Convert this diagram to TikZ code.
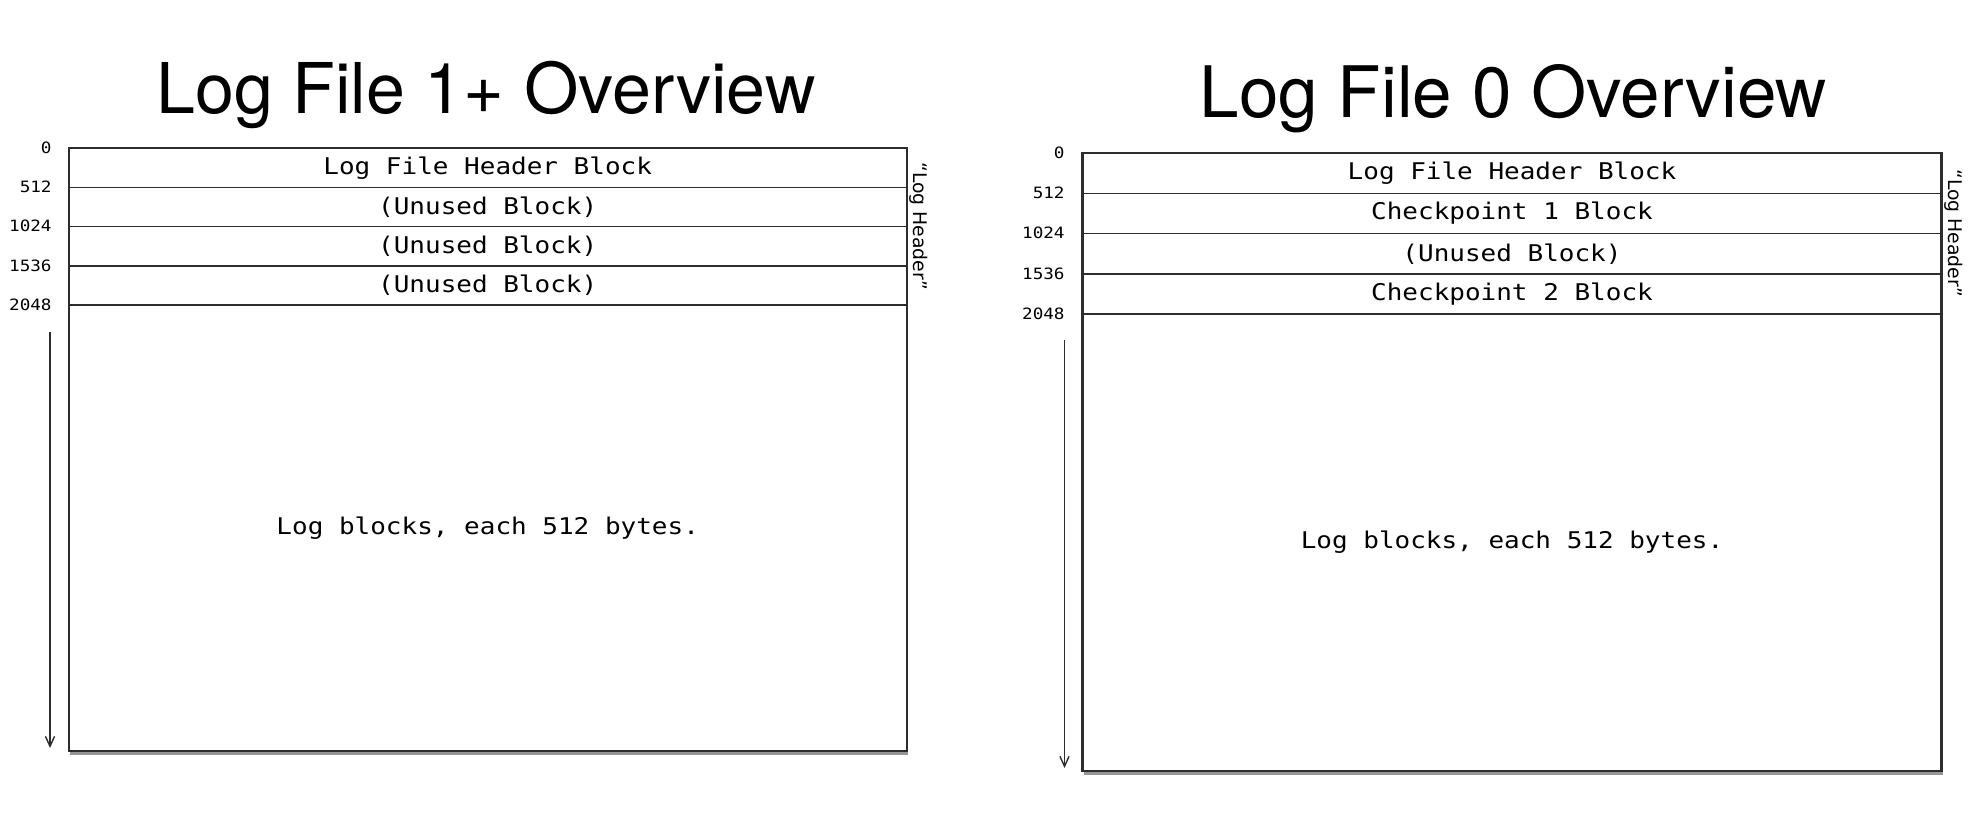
\documentclass[tikz,border=0pt]{standalone}
\usepackage{fontspec}
\setmainfont{TeX Gyre Heros}
\newfontfamily\blockfont[FakeStretch=1.13]{DejaVu Sans Mono}
\newfontfamily\notefont{DejaVu Sans}
\usepackage{tikz}
\usetikzlibrary{arrows.meta,shadows}
\usepackage{xcolor}
\definecolor{boxgrey}{RGB}{45,45,45}
\definecolor{shadegrey}{RGB}{80,80,80}

\tikzset{
  filebox/.style={draw=boxgrey, line width=1.2pt, fill=white,
    drop shadow={shadow xshift=0.8pt, shadow yshift=-1.8pt, opacity=0.6, fill=shadegrey}},
  rowline/.style={boxgrey, line width=0.8pt},
  blocktext/.style={font=\blockfont\fontsize{11.5}{14}\selectfont},
  offset/.style={anchor=mid east, inner sep=0pt, font=\blockfont\fontsize{7.8}{9}\selectfont},
  headnote/.style={rotate=-90, anchor=south, inner sep=0pt, font=\notefont\fontsize{9.4}{11}\selectfont},
  growth/.style={-{Straight Barb[length=5pt,width=4.6pt]}, boxgrey, line width=0.7pt},
  title/.style={anchor=base, font=\fontsize{35}{42}\selectfont}
}

\begin{document}
\begin{tikzpicture}[x=50pt, y=50pt]
        \useasboundingbox (0,0) rectangle (19.88,8.22);

        % Log file 1+
        \node[title] (ltitle) at (4.86,7.08) {Log File 1+ Overview};
        \draw[filebox] (0.687,0.71) rectangle (9.067,6.737);
        \draw[rowline] (0.687,6.345) -- (9.067,6.345);
        \draw[rowline] (0.687,5.953) -- (9.067,5.953);
        \draw[rowline] (0.687,5.561) -- (9.067,5.561);
        \draw[rowline] (0.687,5.169) -- (9.067,5.169);
        \node[blocktext] (lhdr) at (4.877,6.541) {Log File Header Block};
        \node[blocktext] (lunusedA) at (4.877,6.149) {(Unused Block)};
        \node[blocktext] (lunusedB) at (4.877,5.757) {(Unused Block)};
        \node[blocktext] (lunusedC) at (4.877,5.365) {(Unused Block)};
        \node[blocktext] (lblocks) at (4.877,2.94) {Log blocks, each 512 bytes.};
        \node[headnote] (lnote) at (9.09,5.953) {“Log Header”};
        % byte offsets
        \node[offset] (loffA) at (0.52,6.737) {0};
        \node[offset] (loffB) at (0.52,6.345) {512};
        \node[offset] (loffC) at (0.52,5.953) {1024};
        \node[offset] (loffD) at (0.52,5.561) {1536};
        \node[offset] (loffE) at (0.52,5.169) {2048};
        \coordinate (lstart) at (0.50,4.90);
        \coordinate (lend) at (0.50,0.74);
        \draw[growth] (lstart) -- (lend);

        % Log file 0
        \node[title, font=\fontsize{35.5}{42}\selectfont] (rtitle) at (15.135,7.04) {Log File 0 Overview};
        \draw[filebox] (10.825,0.51) rectangle (19.415,6.687);
        \draw[rowline] (10.825,6.285) -- (19.415,6.285);
        \draw[rowline] (10.825,5.883) -- (19.415,5.883);
        \draw[rowline] (10.825,5.481) -- (19.415,5.481);
        \draw[rowline] (10.825,5.079) -- (19.415,5.079);
        \node[blocktext] (rhdr) at (15.12,6.486) {Log File Header Block};
        \node[blocktext] (rcheckA) at (15.12,6.084) {Checkpoint 1 Block};
        \node[blocktext] (runused) at (15.12,5.682) {(Unused Block)};
        \node[blocktext] (rcheckB) at (15.12,5.28) {Checkpoint 2 Block};
        \node[blocktext] (rblocks) at (15.12,2.795) {Log blocks, each 512 bytes.};
        \node[headnote] (rnote) at (19.44,5.883) {“Log Header”};
        % byte offsets
        \node[offset] (roffA) at (10.65,6.687) {0};
        \node[offset] (roffB) at (10.65,6.285) {512};
        \node[offset] (roffC) at (10.65,5.883) {1024};
        \node[offset] (roffD) at (10.65,5.481) {1536};
        \node[offset] (roffE) at (10.65,5.079) {2048};
        \coordinate (rstart) at (10.645,4.82);
        \coordinate (rend) at (10.645,0.54);
        \draw[growth] (rstart) -- (rend);
      \end{tikzpicture}
\end{document}
